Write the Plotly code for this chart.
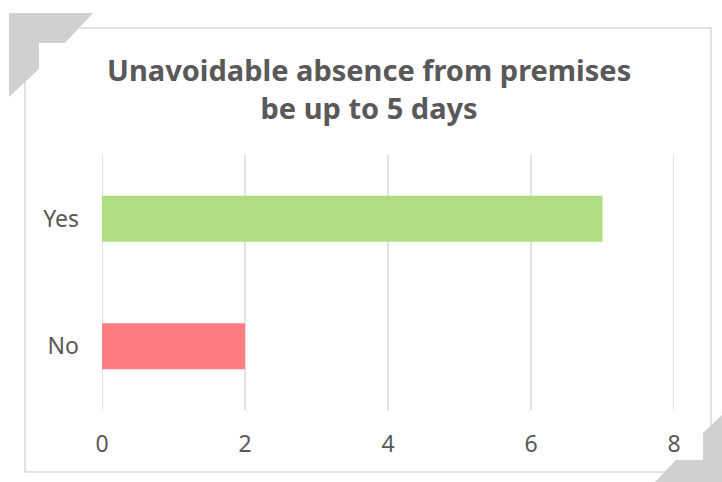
import plotly.graph_objects as go

categories = ["No", "Yes"]
values = [2, 7]
bar_colors = ["#FF7C80", "#B0DD80"]
x_ticks = [0, 2, 4, 6, 8]
title_lines = ["Unavoidable absence from premises", "be up to 5 days"]

W, H = 722, 482
L, R, T, B = 102, 674, 155, 410


def px(x):
    return (x - L) / (R - L)


def py(y):
    return (B - y) / (B - T)


def path(points):
    return "M " + " L ".join(f"{px(x)},{py(y)}" for x, y in points) + " Z"


fig = go.Figure()
fig.add_trace(go.Bar(
    y=categories, x=values, orientation="h",
    marker=dict(color=bar_colors, line=dict(width=0)),
    width=0.36, hoverinfo="x+y",
))

grey = "#D0D0D0"
grid = "#D9D9D9"
shapes = [
    dict(type="rect", xref="paper", yref="paper",
         x0=px(25), x1=px(711), y0=py(472), y1=py(28),
         line=dict(color=grid, width=1.5), fillcolor="rgba(0,0,0,0)", layer="below"),
    dict(type="path", xref="paper", yref="paper",
         path=path([(9, 13), (93, 13), (65, 43), (39, 43), (39, 69), (9, 97)]),
         fillcolor=grey, line=dict(width=0)),
    dict(type="path", xref="paper", yref="paper",
         path=path([(722, 415), (722, 482), (655, 482), (676, 460), (703, 460), (703, 433)]),
         fillcolor=grey, line=dict(width=0)),
]
for t in x_ticks:
    shapes.append(dict(type="line", xref="x", yref="paper", x0=t, x1=t, y0=0, y1=1,
                       line=dict(color=grid, width=1.5), layer="below"))

title_font = dict(family="Noto Sans", size=29, color="#595959")
annotations = [
    dict(text="<b>" + "<br>".join(title_lines) + "</b>", xref="paper", yref="paper",
         x=px(368.5), y=py(88), xanchor="center", yanchor="middle",
         showarrow=False, font=title_font),
]

tick_font = dict(family="Noto Sans", size=23, color="#595959")
fig.update_layout(
    width=W, height=H,
    margin=dict(l=L, r=W - R, t=T, b=H - B),
    paper_bgcolor="white", plot_bgcolor="white",
    showlegend=False,
    shapes=shapes,
    annotations=annotations,
    font=dict(family="Noto Sans", color="#595959", size=23),
    xaxis=dict(
        range=[0, 8], tickvals=x_ticks, showgrid=False,
        zeroline=False, showline=False, ticks="", ticklabelstandoff=18,
        tickfont=tick_font, fixedrange=True,
    ),
    yaxis=dict(
        showgrid=False, zeroline=False, showline=False, ticks="",
        ticklabelstandoff=22, tickfont=tick_font,
        categoryorder="array", categoryarray=categories, fixedrange=True,
    ),
)

fig.write_html("out.html")
